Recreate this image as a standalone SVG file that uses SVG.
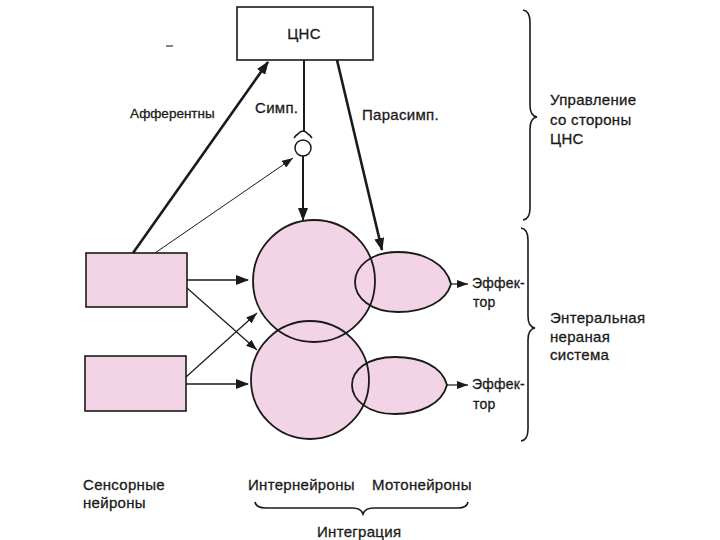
<svg xmlns="http://www.w3.org/2000/svg" width="720" height="540" viewBox="0 0 720 540">
<style>
.t{font-family:"Liberation Sans",Arial,sans-serif;font-size:15px;letter-spacing:0.3px;fill:#1a1a1a;stroke:#1a1a1a;stroke-width:0.3px;}
.s{font-size:13.5px;letter-spacing:0px;}
.e{font-size:14px;letter-spacing:0.2px;}
.b{fill:none;stroke:#1a1a1a;stroke-width:1.6;}
.fill{fill:#f2d4e6;stroke:none;}
.out{fill:none;stroke:#1a1a1a;stroke-width:1.8;}
.c{fill:none;stroke:#1a1a1a;}
</style>
<defs>
<marker id="ah" markerUnits="userSpaceOnUse" markerWidth="14" markerHeight="10" refX="12" refY="5" orient="auto">
<path d="M0,0 L13,5 L0,10 Z" fill="#1a1a1a"/>
</marker>
<marker id="ahs" markerUnits="userSpaceOnUse" markerWidth="12" markerHeight="8" refX="11" refY="4" orient="auto">
<path d="M0,0 L11,4 L0,8 Z" fill="#1a1a1a"/>
</marker>
</defs>
<rect width="720" height="540" fill="#ffffff"/>

<g id="cns">
<rect x="237" y="7" width="136" height="53" fill="#ffffff" stroke="#1a1a1a" stroke-width="1.6"/>
<text class="t" x="304" y="39" text-anchor="middle">ЦНС</text>
</g>
<line x1="166" y1="46" x2="173" y2="46" stroke="#333" stroke-width="1.2"/>

<g id="fills">
<circle class="fill" cx="314" cy="281" r="61"/>
<circle class="fill" cx="310" cy="380" r="59"/>
<path class="fill" d="M451,284 C446,264 424,252 398,252 C370,252 355,267 355,282 C355,298 371,312 398,312 C424,312 446,302 451,284 Z"/>
<path class="fill" d="M447,385 C442,366 420,357 395,357 C366,357 352,371 352,385 C352,400 368,414 395,414 C420,414 442,404 447,385 Z"/>
</g>

<g id="sensory1"><rect x="86" y="253" width="101" height="54" fill="#f2d4e6" stroke="#1a1a1a" stroke-width="1.6"/></g>
<g id="sensory2"><rect x="85" y="356" width="101" height="55" fill="#f2d4e6" stroke="#1a1a1a" stroke-width="1.6"/></g>
<g id="interneuron1"><circle class="out" cx="314" cy="281" r="61"/></g>
<g id="interneuron2"><circle class="out" cx="310" cy="380" r="59"/></g>
<g id="motoneuron1"><path class="out" d="M451,284 C446,264 424,252 398,252 C370,252 355,267 355,282 C355,298 371,312 398,312 C424,312 446,302 451,284 Z"/></g>
<g id="motoneuron2"><path class="out" d="M447,385 C442,366 420,357 395,357 C366,357 352,371 352,385 C352,400 368,414 395,414 C420,414 442,404 447,385 Z"/></g>
<g id="synapse">
<circle cx="303" cy="148" r="8" fill="#ffffff" stroke="#1a1a1a" stroke-width="1.5"/>
<path d="M294,138 Q296,135 298,134 Q303,128 308,134 Q310,135 312,138" fill="none" stroke="#1a1a1a" stroke-width="1.5"/>
</g>

<g id="connectors">
<line x1="133" y1="253" x2="268" y2="62" class="c" stroke-width="2.6" marker-end="url(#ah)"/>
<line x1="155" y1="253" x2="293" y2="158" class="c" stroke-width="1" marker-end="url(#ahs)"/>
<line x1="304" y1="60" x2="304" y2="131" class="c" stroke-width="2"/>
<line x1="303" y1="156" x2="303" y2="220" class="c" stroke-width="2" marker-end="url(#ah)"/>
<line x1="337" y1="60" x2="382" y2="250" class="c" stroke-width="2.6" marker-end="url(#ah)"/>
<line x1="187" y1="280" x2="248" y2="280" class="c" stroke-width="1.3" marker-end="url(#ah)"/>
<line x1="187" y1="288" x2="257" y2="350" class="c" stroke-width="1.2" marker-end="url(#ahs)"/>
<line x1="186" y1="377" x2="257" y2="313" class="c" stroke-width="1.2" marker-end="url(#ahs)"/>
<line x1="186" y1="384" x2="248" y2="384" class="c" stroke-width="1.3" marker-end="url(#ah)"/>
<line x1="451" y1="284" x2="468" y2="284" class="c" stroke-width="1.2" marker-end="url(#ahs)"/>
<line x1="447" y1="385" x2="468" y2="385" class="c" stroke-width="1.2" marker-end="url(#ahs)"/>
</g>

<g id="labels">
<text class="t s" x="130" y="118">Афферентны</text>
<text class="t" x="255" y="113">Симп.</text>
<text class="t" x="362" y="120">Парасимп.</text>
<text class="t e" x="472" y="288">Эффек-</text>
<text class="t e" x="473" y="307">тор</text>
<text class="t e" x="472" y="389">Эффек-</text>
<text class="t e" x="473" y="409">тор</text>
<text class="t" x="550" y="105">Управление</text>
<text class="t" x="550" y="125">со стороны</text>
<text class="t" x="550" y="144">ЦНС</text>
<text class="t" x="550" y="323">Энтеральная</text>
<text class="t" x="550" y="342">нераная</text>
<text class="t" x="550" y="360">система</text>
<text class="t" x="83" y="490">Сенсорные</text>
<text class="t" x="83" y="508">нейроны</text>
<text class="t" x="248" y="490">Интернейроны</text>
<text class="t" x="372" y="490">Мотонейроны</text>
<text class="t" x="317" y="537">Интеграция</text>
</g>

<g id="braces">
<path class="b" d="M523,10 Q530,11 530,22 L530,105 Q530,116 537,117 Q530,118 530,129 L530,208 Q530,219 523,220"/>
<path class="b" d="M521,228 Q528,229 528,240 L528,316 Q528,327 535,328 Q528,329 528,340 L528,429 Q528,440 521,441"/>
<path class="b" d="M255,502 Q256,508 266,508 L352,508 Q361,508 363,514 Q365,508 374,508 L458,508 Q467,508 468,502"/>
</g>
</svg>
